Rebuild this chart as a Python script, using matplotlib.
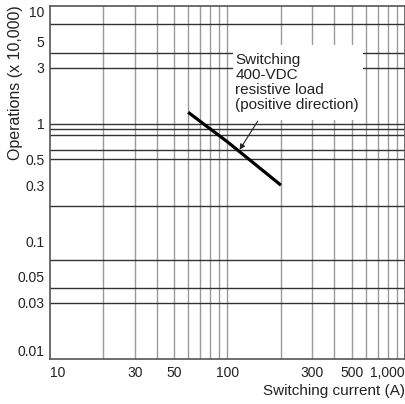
import matplotlib
matplotlib.use("Agg")
import matplotlib.pyplot as plt
from matplotlib.ticker import FixedLocator, NullFormatter, FixedFormatter
from matplotlib.patches import Rectangle

plt.rcParams['font.family'] = ['Liberation Sans', 'DejaVu Sans']

# Data
current = [60, 100, 200]
operations = [1.25, 0.70, 0.30]

x_ticks = [10, 30, 50, 100, 300, 500, 1000]
x_tick_labels = ["10", "30", "50", "100", "300", "500", "1,000"]
y_ticks = [10, 5, 3, 1, 0.5, 0.3, 0.1, 0.05, 0.03, 0.01]
y_tick_labels = ["10", "5", "3", "1", "0.5", "0.3", "0.1", "0.05", "0.03", "0.01"]

x_grid = [20, 30, 40, 50, 60, 70, 80, 90, 100, 200, 300, 400, 500, 600, 700, 800, 900]
y_grid = [7, 4, 3, 1, 0.9, 0.8, 0.6, 0.5, 0.2, 0.07, 0.04, 0.03]

label_text = "Switching\n400-VDC\nresistive load\n(positive direction)"

fig = plt.figure(figsize=(4.06, 4.04), dpi=100)
ax = fig.add_axes([50/406, 1-359/404, 355/406, 353/404])
ax.set_xscale('log')
ax.set_yscale('log')
ax.set_xlim(10, 1000)
ax.set_ylim(0.01, 10)

for xv in x_grid:
    ax.axvline(xv, color='#9a9a9a', lw=1.0, zorder=1)
for yv in y_grid:
    ax.axhline(yv, color='#333333', lw=1.0, zorder=1)

ax.plot(current, operations, color='black', lw=2.3, solid_capstyle='butt', zorder=4)

ax.xaxis.set_major_locator(FixedLocator(x_ticks))
ax.xaxis.set_major_formatter(FixedFormatter(x_tick_labels))
ax.xaxis.set_minor_locator(FixedLocator([]))
ax.xaxis.set_minor_formatter(NullFormatter())
ax.yaxis.set_major_locator(FixedLocator(y_ticks))
ax.yaxis.set_major_formatter(FixedFormatter(y_tick_labels))
ax.yaxis.set_minor_locator(FixedLocator([]))
ax.yaxis.set_minor_formatter(NullFormatter())
ax.tick_params(axis='both', which='both', length=0, labelsize=10, labelcolor='#222222')
ax.tick_params(axis='x', pad=5)
ax.tick_params(axis='y', pad=4)

xl = ax.get_xticklabels()
xl[0].set_horizontalalignment('left')
xl[-1].set_horizontalalignment('right')
yl = ax.get_yticklabels()
yl[0].set_verticalalignment('top')
yl[-1].set_verticalalignment('bottom')

for s in ax.spines.values():
    s.set_color('#555555')
    s.set_linewidth(1.2)

ax.add_patch(Rectangle((0.515, 0.677), 0.367, 0.213, transform=ax.transAxes,
                       facecolor='white', edgecolor='none', zorder=3))
ax.text(0.522, 0.866, label_text, transform=ax.transAxes, ha='left', va='top',
        fontsize=11, color='#222222', linespacing=1.08, zorder=5)

ax.annotate('', xy=(117, 0.60), xytext=(148, 1.05),
            arrowprops=dict(arrowstyle='-|>', color='#222222', lw=0.8,
                            mutation_scale=8, shrinkA=0, shrinkB=0), zorder=6)

fig.text(405/406, 1-391/404, "Switching current (A)", ha='right', va='center',
         fontsize=11, color='#222222')
fig.text(16/406, 1-5/404, "Operations (x 10,000)", ha='center', va='top',
         rotation=90, fontsize=11.5, color='#222222')

fig.savefig('out.png', dpi=100)
